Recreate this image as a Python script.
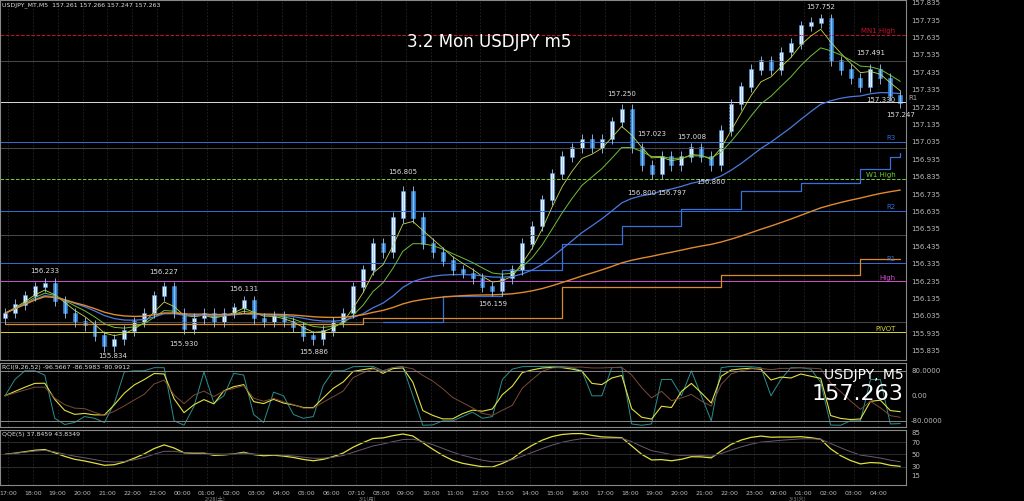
import numpy as np, pandas as pd, matplotlib
matplotlib.use("Agg")
import matplotlib.pyplot as plt, seaborn as sns

sns.set_style("dark")
plt.rcParams['font.family'] = ['DejaVu Sans']

closes = [156.05,156.10,156.15,156.20,156.22,156.12,156.05,156.00,155.98,155.92,
          155.86,155.90,155.95,156.00,156.05,156.15,156.20,156.05,155.96,156.02,
          156.05,156.00,156.05,156.08,156.12,156.02,156.00,156.03,156.00,155.97,
          155.92,155.90,155.95,156.00,156.05,156.20,156.30,156.45,156.40,156.60,
          156.75,156.60,156.45,156.40,156.35,156.30,156.28,156.25,156.20,156.18,
          156.25,156.30,156.45,156.55,156.70,156.85,156.95,157.00,157.05,157.00,
          157.05,157.15,157.22,157.00,156.90,156.85,156.95,156.90,156.95,157.00,
          156.95,156.90,157.10,157.25,157.35,157.45,157.50,157.45,157.55,157.60,
          157.70,157.72,157.74,157.50,157.45,157.40,157.35,157.45,157.40,157.30,157.26]
first_open = 156.02
peak_idx = [4,16,10,18,24,31,40,49,62,65,64,67,69,71,82,87,88,90]
peak_val = [156.233,156.227,155.834,155.930,156.131,155.886,156.805,156.159,157.250,
            157.023,156.800,156.797,157.008,156.860,157.752,157.491,157.330,157.247]
peak_above = [1,1,0,0,1,0,1,0,1,1,0,0,1,0,1,1,0,0]
level_names = ["MN1 High","R1","R3","W1 High","R2","R1","High","PIVOT"]
level_vals = [157.650,157.263,157.034,156.823,156.639,156.340,156.233,155.940]
level_cols = ["#c8102e","#aaaaaa","#2f6fd6","#6fcf2f","#2f6fd6","#2f6fd6","#d04fd0","#d6d62f"]
round_levels = [157.500,157.000,156.500,156.000]
stair_blue_idx = [38,44,50,56,62,68,74,80,86,89,90]
stair_blue_val = [156.00,156.15,156.30,156.45,156.55,156.65,156.75,156.80,156.88,156.95,156.97]
stair_or_idx = [0,36,56,72,86,90]
stair_or_val = [155.99,156.02,156.20,156.27,156.36,156.36]
hour_labels = ["17:00","18:00","19:00","20:00","21:00","22:00","23:00","00:00","01:00","02:00",
               "03:00","04:00","05:00","06:00","07:10","08:00","09:00","10:00","11:00","12:00",
               "13:00","14:00","15:00","16:00","17:00","18:00","19:00","20:00","21:00","22:00",
               "23:00","00:00","01:00","02:00","03:00","04:00"]

c = np.array(closes); n = len(c)
o = np.r_[first_open, c[:-1]]
x = np.arange(n)
BG = "black"
fig = plt.figure(figsize=(10.24,5.01), dpi=100, facecolor=BG)
ax = fig.add_axes([0,0.281,0.885,0.719])
ax2 = fig.add_axes([0,0.148,0.885,0.127])
ax3 = fig.add_axes([0,0.032,0.885,0.110])
xlim = (-0.5, n-0.5+0.1)
for a in (ax,ax2,ax3):
    a.set_facecolor(BG); a.set_xlim(*xlim)
    for s in a.spines.values(): s.set_color("#888888")
    a.yaxis.tick_right(); a.tick_params(colors="#bbbbbb", labelsize=5, length=0)
    a.set_xticks([])
    for h in range(len(hour_labels)):
        a.axvline(h*2.5+0.3, color="#262626", lw=0.6, ls=(0,(2,2)))
ax.set_ylim(155.78, 157.85)
ax.set_yticks(np.arange(155.835,157.9,0.1))
ax.set_yticklabels([f"{v:.3f}" for v in np.arange(155.835,157.9,0.1)])
for v in round_levels: ax.axhline(v, color="#4a4a4a", lw=0.7)
for nm,v,col in zip(level_names,level_vals,level_cols):
    ls = "--" if "High" in nm and nm!="High" else "-"
    top = (nm=="R1" and v>157)
    ax.axhline(v, color="#dddddd" if top else col, lw=0.7, ls=ls)
    ax.text(n-0.2 if top else n-1.5, v+0.01, nm, color=col, fontsize=5,
            ha="left" if top else "right")
ax.step(stair_blue_idx, stair_blue_val, where="post", color="#3a6fd8", lw=0.9)
ax.step(stair_or_idx, stair_or_val, where="post", color="#d98a2a", lw=0.9)
s = pd.Series(c)
df = pd.DataFrame({"x":x,"m1":s.ewm(span=4).mean(),"m2":s.ewm(span=8).mean(),
                   "m3":s.ewm(span=24).mean(),"m4":s.ewm(span=160).mean()})
sns.lineplot(data=df,x="x",y="m1",ax=ax,color="#c8d84a",lw=0.6)
sns.lineplot(data=df,x="x",y="m2",ax=ax,color="#6fbf3a",lw=0.7)
sns.lineplot(data=df,x="x",y="m3",ax=ax,color="#4a7ae0",lw=0.9)
sns.lineplot(data=df,x="x",y="m4",ax=ax,color="#e08a30",lw=1.0)
up = c>=o
hi = np.maximum(c,o)+0.03; lo = np.minimum(c,o)-0.03
ax.vlines(x, lo, hi, color="#9fc8f0", lw=0.6)
ax.bar(x, np.abs(c-o)+0.004, bottom=np.minimum(c,o), width=0.4,
       color=np.where(up,"#e8f0ff","#3a8fe0"), edgecolor="#3a8fe0", lw=0.4)
for i,v,ab in zip(peak_idx,peak_val,peak_above):
    ax.text(i+(0.8 if v==155.834 else 0), v+(0.04 if ab else (-0.015 if v==155.834 else -0.04)), f"{v:.3f}",
            color="#dddddd", fontsize=5, ha="center", va="bottom" if ab else "top")
ax.text(0.002,0.993,"USDJPY_MT,M5  157.261 157.266 157.247 157.263", transform=ax.transAxes,
        color="#dddddd", fontsize=4.5, va="top")
ax.text(0.54,0.87,"3.2 Mon USDJPY m5", transform=ax.transAxes, color="white", fontsize=12, ha="center")
ax.set_xlabel(""); ax.set_ylabel("")
d = np.diff(c, prepend=c[0])
fast = 95*np.tanh(pd.Series(d).rolling(2,min_periods=1).mean().values*25)
mid = 95*np.tanh((s - s.rolling(6,min_periods=1).mean()).values*6)
slow = 95*np.tanh((s - s.rolling(15,min_periods=1).mean()).values*4)
od = pd.DataFrame({"x":x,"f":fast,"m":mid,"s":slow})
sns.lineplot(data=od,x="x",y="f",ax=ax2,color="#2a8f8f",lw=0.7)
sns.lineplot(data=od,x="x",y="m",ax=ax2,color="#e0e040",lw=0.8)
sns.lineplot(data=od,x="x",y="s",ax=ax2,color="#7a4a3a",lw=0.7)
ax2.set_ylim(-100,105); ax2.set_yticks([80,0,-80]); ax2.set_yticklabels(["80.0000","0.00","-80.0000"])
for v in (80,-80): ax2.axhline(v,color="#888888",lw=0.7)
ax2.text(0.002,0.97,"RCI(9,26,52) -96.5667 -86.5983 -80.9912",transform=ax2.transAxes,color="#dddddd",fontsize=4.5,va="top")
ax2.text(0.997,0.93,"USDJPY, M5",transform=ax2.transAxes,color="white",fontsize=10,ha="right",va="top")
ax2.text(0.997,0.68,"157.263",transform=ax2.transAxes,color="white",fontsize=16,ha="right",va="top")
ax2.set_xlabel(""); ax2.set_ylabel("")
rsi = 50+40*np.tanh((s - s.rolling(10,min_periods=1).mean()).values*3)
qd = pd.DataFrame({"x":x,"q":pd.Series(rsi).ewm(span=3).mean(),"q2":pd.Series(rsi).ewm(span=8).mean()})
sns.lineplot(data=qd,x="x",y="q",ax=ax3,color="#e0e040",lw=0.9)
sns.lineplot(data=qd,x="x",y="q2",ax=ax3,color="#6a5a70",lw=0.7)
ax3.set_ylim(0,90); ax3.set_yticks([85,70,50,30,15])
for v in (70,50,30): ax3.axhline(v,color="#333333",lw=0.6)
ax3.text(0.002,0.97,"QQE(5) 37.8459 43.8349",transform=ax3.transAxes,color="#dddddd",fontsize=4.5,va="top")
ax3.set_xlabel(""); ax3.set_ylabel("")
for h,lab in enumerate(hour_labels):
    fig.text((h*2.5+0.3+0.5)/(n+0.1)*0.885, 0.012, lab, color="#bbbbbb", fontsize=4.5, ha="center")
jp = ['Noto Sans CJK JP','DejaVu Sans']
fig.text(0.2,0.0,"2/28(土)",color="#888888",fontsize=4,family=jp)
fig.text(0.35,0.0,"3/1(月)",color="#888888",fontsize=4,family=jp)
fig.text(0.77,0.0,"3/3(火)",color="#888888",fontsize=4,family=jp)
fig.savefig("out.png", dpi=100, facecolor=BG)
